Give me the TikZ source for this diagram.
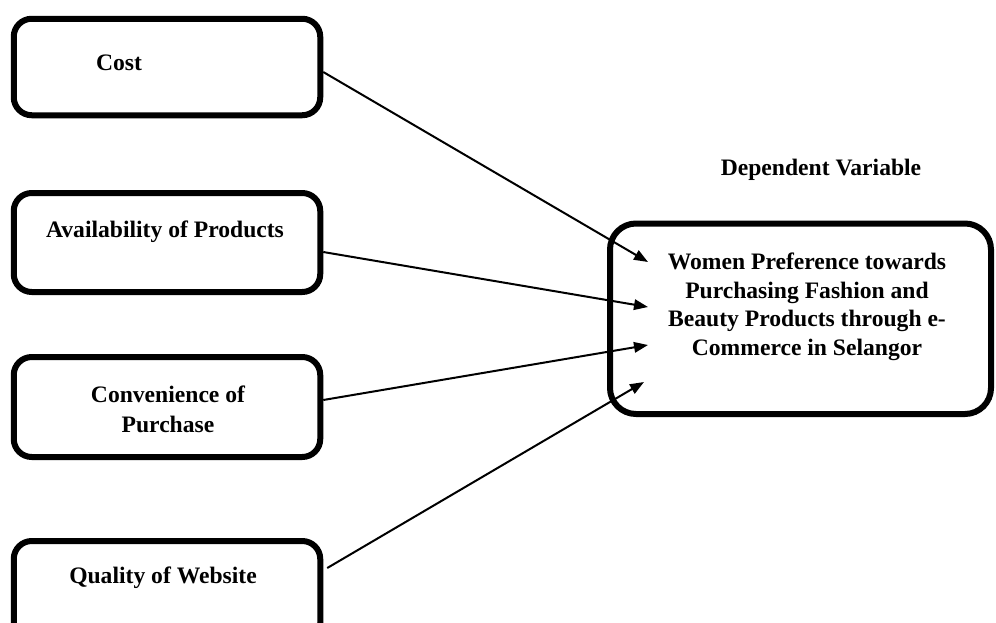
\documentclass[tikz,border=0pt]{standalone}
\usepackage{fontspec}
\setmainfont{Liberation Serif}
\usetikzlibrary{arrows.meta}
\tikzset{
  varbox/.style={draw=black, line width=6pt, rounded corners=18pt, rectangle, inner sep=0pt},
  depbox/.style={varbox, rounded corners=26pt},
  lbl/.style={font=\fontsize{23.6}{28.5}\selectfont\bfseries, inner sep=0pt, align=center},
  link/.style={line width=2pt, -{Triangle[length=14pt,width=10.5pt]}}
}
\begin{document}
\begin{tikzpicture}[x=1pt,y=-1pt]
\useasboundingbox (0,0) rectangle (996,622);
\clip (0,0) rectangle (996,622);
% boxes
\node[varbox, minimum width=306.5pt, minimum height=96.5pt] (cost) at (167,67) {};
\node[varbox, minimum width=306.5pt, minimum height=99pt] (avail) at (167,242.5) {};
\node[varbox, minimum width=306.5pt, minimum height=100pt] (conv) at (167,407) {};
\node[varbox, minimum width=306.5pt, minimum height=100pt] (qual) at (167,591) {};
\node[depbox, minimum width=381pt, minimum height=190.5pt] (dep) at (800.5,318.75) {};
% labels
\node[lbl, anchor=base] (costT) at (119,70) {Cost};
\node[lbl, anchor=base] (availT) at (165,237) {Availability of Products};
\node[lbl, font=\fontsize{23.6}{30}\selectfont\bfseries] (convT) at (168,409) {Convenience of\\Purchase};
\node[lbl, anchor=base] (qualT) at (163,583) {Quality of Website};
\node[lbl] (depT) at (807,306.6) {Women Preference towards\\Purchasing Fashion and\\Beauty Products through e-\\Commerce in Selangor};
\node[lbl, anchor=base] (title) at (821,175) {Dependent Variable};
% arrow targets
\coordinate (t1) at (648,262);
\coordinate (t2) at (648,307);
\coordinate (t3) at (648,345);
\coordinate (t4) at (644,382);
% connectors
\draw[link] ([yshift=-5pt]cost.east) -- (t1);
\draw[link] ([yshift=-9.5pt]avail.east) -- (t2);
\draw[link] ([yshift=7pt]conv.east) -- (t3);
\draw[link] ([xshift=4pt,yshift=23pt]qual.east) -- (t4);
\end{tikzpicture}
\end{document}
